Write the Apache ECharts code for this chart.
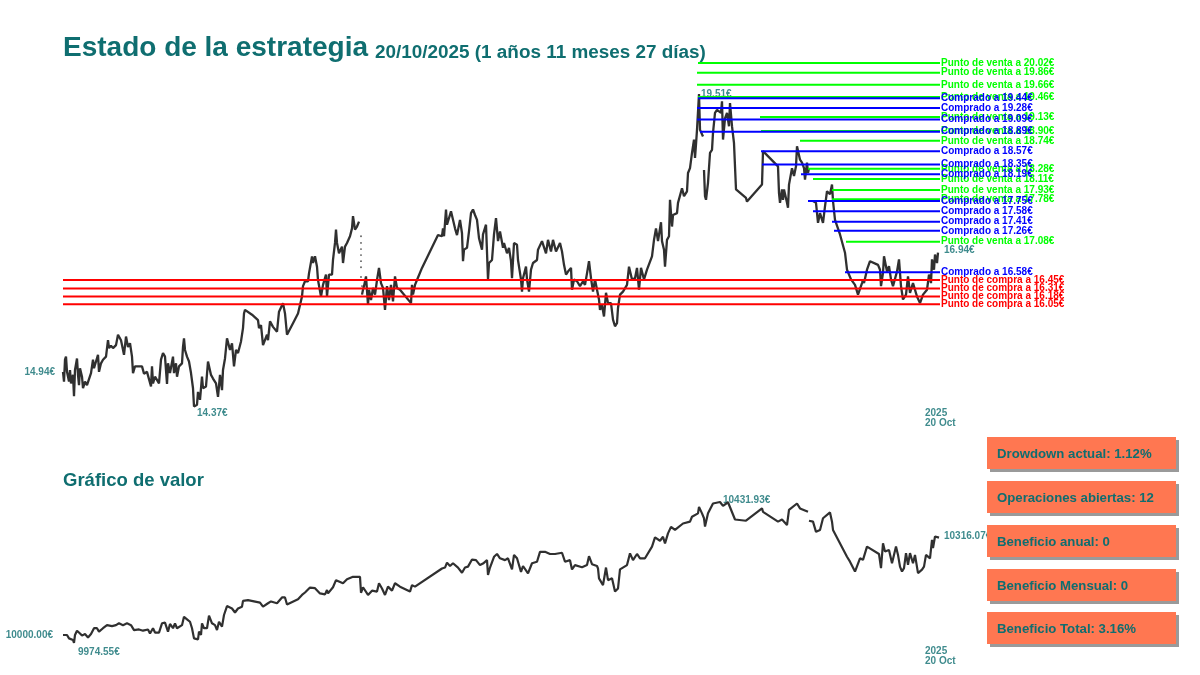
<!DOCTYPE html>
<html><head><meta charset="utf-8">
<script src="https://cdn.jsdelivr.net/npm/echarts@6/dist/echarts.min.js"></script>
<style>html,body{margin:0;background:#fff}#c{width:1200px;height:675px}</style></head>
<body><div id="c"></div>
<script>
// Price path: session number and price in euros
const priceSessions=[0,1,2,3,4,6,7,8,10,11,12,14,15,16,17,19,20,22,24,26,28,30,31,33,35,36,38,40,43,45,46,48,50,53,55,58,59,61,63,65,67,69,70,72,74,79,81,84,86,88,89,90,92,96,98,100,102,104,105,107,110,111,113,114,116,119,120,121,122,124,126,128,130,131,134,135,137,139,140,143,145,148,150,153,155,157,159,160,162,164,167,169,171,173,175,178,180,181,182,189,195,196,198,200,202,204,205,207,210,214,216,220,222,224,230,235,237,239,240,242,245,246,249,250,252,254,255,258,260,263,264,266,269,270,272,273,274,276,279,280,282,284,287,289,290,292,294,296,298,299,300,301,303,305,306,308,310,312,314,316,318,320,322,324,326,328,330,332,334,337,348,349,350,352,354,359,375,379,380,381,383,384,386,388,390,392,394,397,399,400,401,404,406,408,410,412,414,416,419,420,423,425,426,429,431,433,435,437,440,441,444,446,448,449,451,454,455,458,459,460,463,464,466,468,470,474,475,479,481,483,485,488,490,493,497,499,501,503,505,508,509,511,514,517,520,522,524,526,528,530,532,534,536,537,539,541,543,545,548,550,552,554,555,557,560,562,564,566,569,572,574,576,578,581,584,589,591,593,595,598,599,601,602,604,606,607,609,610,614,615,619,621,624,625,627,629,631,632,633,634,636,637,638,640,641,641,642,643,645,647,649,650,652,654,658,659,660,662,664,666,667,669,671,673,683,684,699,700,715,716,717,719,720,721,724,725,726,729,731,733,734,737,739,741,742,744,745,746,746,750,753,755,757,760,762,764,767,769,770,772,777,782,784,785,788,792,793,795,799,800,801,804,807,815,817,818,820,821,824,826,828,830,834,836,838,840,843,845,847,850,852,854,857,860,862,864,866,868,869,871,872,874,875];
const priceValues=[14.94,14.78,15.14,15.19,14.94,14.78,14.97,14.75,14.89,14.54,14.97,15.16,14.89,14.72,15.0,14.86,14.67,14.78,14.72,14.74,14.92,15.14,15.0,15.11,15.22,14.94,15.08,15.14,15.19,15.46,15.33,15.37,15.33,15.38,15.55,15.46,15.38,15.22,15.52,15.35,15.41,15.19,14.92,15.03,15.02,15.03,14.91,14.94,14.92,14.70,15.03,14.75,14.86,14.75,15.14,15.25,15.19,14.74,15.08,14.92,15.19,14.92,15.08,14.86,15.03,15.08,15.35,15.49,15.30,15.19,15.11,14.92,14.67,14.37,14.40,14.61,14.48,14.86,14.67,14.70,15.11,14.89,14.83,14.75,14.53,14.89,14.64,14.97,15.16,15.49,15.30,15.41,15.03,15.30,15.25,15.44,15.66,15.90,15.96,15.88,15.79,15.66,15.71,15.38,15.41,15.55,15.46,15.77,15.68,15.60,15.93,16.07,15.90,15.55,15.74,15.90,15.91,16.18,16.35,16.43,16.43,16.56,16.84,16.73,16.84,16.67,16.45,16.18,16.37,16.54,16.18,16.54,16.54,16.78,17.06,17.28,17.06,16.89,17.0,16.73,17.0,17.06,17.17,17.30,17.50,17.28,17.33,17.41,null,16.21,16.29,16.35,16.51,16.04,16.29,16.12,16.32,16.21,16.45,16.65,16.40,16.32,15.96,16.35,16.12,16.37,16.10,16.51,16.32,16.29,16.07,16.37,16.21,16.37,16.45,16.65,17.19,17.17,17.30,17.17,17.61,17.36,17.33,17.58,17.58,17.30,17.19,17.44,17.22,16.76,16.95,16.98,17.25,17.55,17.61,17.52,17.44,17.14,16.95,17.20,17.36,16.46,16.73,16.78,17.20,17.47,17.09,17.25,16.98,17.06,16.89,16.98,16.76,16.48,17.06,17.03,16.78,16.46,16.26,16.48,16.67,16.46,16.26,16.62,16.73,16.78,16.95,17.09,17.11,16.89,17.11,16.92,17.11,16.92,17.06,16.92,16.70,16.54,16.59,16.65,16.29,16.46,16.43,16.35,16.43,16.37,16.56,16.76,16.48,16.26,16.46,16.29,16.13,15.96,16.04,15.85,16.24,16.07,16.07,15.80,15.69,15.74,15.99,16.21,16.26,16.26,16.37,16.67,16.46,16.48,16.65,16.29,16.65,16.46,16.62,16.84,17.11,17.30,17.09,17.40,17.09,16.95,16.67,17.11,17.17,17.77,17.33,17.52,17.55,17.72,17.96,17.83,17.91,18.21,18.29,18.54,18.76,18.46,18.68,18.92,19.51,18.92,18.89,18.81,null,18.26,17.83,17.77,18.05,18.54,18.59,18.87,19.20,19.25,19.20,19.39,18.76,19.11,19.20,18.98,19.36,18.98,18.70,17.94,17.80,17.74,18.02,18.57,18.32,17.88,17.72,17.94,17.77,17.94,17.72,17.64,18.02,18.29,18.16,18.32,18.65,18.43,18.38,18.29,18.10,18.38,18.21,18.29,null,17.75,17.72,17.39,17.55,17.39,17.66,17.91,17.86,18.02,17.75,17.44,17.20,16.90,16.62,16.59,16.46,16.37,16.35,16.21,16.40,16.46,16.40,16.62,16.76,16.70,16.62,16.35,16.57,16.84,16.59,16.68,16.46,16.35,16.59,16.79,16.35,16.13,16.21,16.51,16.24,16.40,16.37,16.18,16.07,16.21,16.18,16.29,16.54,16.40,16.79,16.62,16.87,16.73,16.90,16.94];
// Dotted stretch of isolated sessions on the price path
const dotSessions=[298,298,298,298,298,298,298,299];
const dotValues=[17.17,17.06,16.96,16.86,16.76,16.66,16.5,16.35];
// Portfolio value path
const valueSessions=[0,4,6,8,10,11,12,14,17,19,22,25,28,31,34,36,40,44,49,53,56,60,64,68,71,76,80,85,87,90,92,96,99,102,105,107,110,112,114,119,121,124,127,129,131,135,136,138,139,141,144,146,149,152,154,156,159,160,161,164,169,172,175,179,180,185,197,200,205,208,214,219,222,224,235,239,242,247,252,257,262,264,265,270,273,275,280,284,290,297,298,300,305,309,314,316,319,322,325,329,332,337,347,349,352,379,382,384,387,390,395,399,402,405,409,413,417,420,424,425,427,431,434,437,442,445,449,451,454,458,460,465,469,474,477,482,487,492,499,502,507,509,512,519,524,526,529,534,535,536,540,543,545,549,552,555,557,564,567,570,574,577,582,589,592,597,600,602,605,608,612,620,627,629,635,636,639,641,642,645,650,657,660,665,672,683,699,700,715,719,724,726,734,737,745,746,746,750,753,757,760,767,769,770,784,787,792,797,800,804,816,818,820,822,826,829,833,835,837,839,841,843,845,847,850,852,855,859,861,863,867,869,870,872,874,876];
const valueValues=[10000,10000,9989,9994,9984,9974.55,10000,10014,10005,9998,10003,9992,10003,10022,10022,10011,10022,10032,10029,10032,10038,10032,10038,10032,10016,10018,10014,10018,10005,10022,10008,10008,10038,10040,10011,10036,10022,10038,10022,10032,10059,10051,10043,10022,9989,9986,10011,10000,10038,10022,10022,10063,10038,10032,10016,10043,10027,10027,10065,10094,10086,10073,10086,10092,10111,10113,10105,10092,10103,10109,10103,10122,10122,10099,10116,10130,10138,10154,10152,10135,10132,10146,10135,10155,10178,10173,10168,10181,10189,10189,10137,10155,10130,10144,10141,10168,10151,10130,10157,10144,10168,10157,10141,10162,10157,10216,10219,10235,10224,10233,10219,10202,10219,10222,10245,10243,10227,10232,10243,10195,10219,10254,10263,10249,10243,10249,10213,10260,10249,10205,10224,10200,10233,10238,10270,10270,10263,10263,10267,10238,10243,10213,10227,10220,10227,10256,10230,10224,10216,10184,10162,10219,10178,10184,10141,10151,10213,10227,10265,10243,10263,10249,10249,10287,10317,10306,10319,10297,10330,10351,10341,10362,10368,10384,10395,10416,10395,10379,10352,10395,10427,10431.93,10419,10431,10375,10371,10411,10400,10368,10375,10357,10406,10427,10411,10400,null,10371,10368,10335,10341,10379,10398,10368,10341,10254,10238,10206,10249,10244,10287,10263,10217,10298,10271,10276,10233,10287,10260,10222,10206,10217,10266,10228,10266,10233,10260,10201,10212,10222,10260,10249,10309,10282,10320,10314,10316.07];
// Strategy levels: price and the session where each begins
const sellPrices=[20.02,19.86,19.66,19.46,19.13,18.90,18.74,18.28,18.11,17.93,17.78,17.08];
const sellStarts=[635,634,634,635,697,698,737,745,750,769,769,783];
const boughtPrices=[19.44,19.28,19.09,18.89,18.57,18.35,18.19,17.75,17.58,17.41,17.26,16.58];
const boughtStarts=[635,634,634,637,698,699,738,745,750,769,771,782];
const buyPrices=[16.45,16.31,16.18,16.05];
const lastSession=877;
// Cards and texts
const cardTexts=['Drowdown actual: 1.12%','Operaciones abiertas: 12','Beneficio anual: 0','Beneficio Mensual: 0','Beneficio Total: 3.16%'];
const teal='#0f6e70', dark='#303030';
const FONT='"Liberation Sans",Arial,sans-serif';

const zip=(a,b)=>a.map((v,i)=>[v,b[i]]);
function levelSeries(prices,starts,color,prefix){
  return prices.map((p,i)=>({type:'line',xAxisIndex:0,yAxisIndex:0,silent:true,symbol:'none',animation:false,
    data:[[starts?starts[i]:0,p],[lastSession,p]],lineStyle:{color,width:2},
    endLabel:{show:true,distance:1,formatter:prefix+' a '+p.toFixed(2)+'€',color,fontSize:10,fontWeight:'bold',fontFamily:FONT}}));
}
function note(ax,x,y,text,dx,dy,align){
  return {type:'scatter',xAxisIndex:ax,yAxisIndex:ax,symbolSize:0,silent:true,animation:false,z:1,data:[[x,y]],
    label:{show:true,position:'inside',formatter:text,offset:[dx,dy],align:align||'left',verticalAlign:'middle',
      color:teal,fontSize:10,lineHeight:10,fontWeight:'bold',fontFamily:FONT}};
}
const chart=echarts.init(document.getElementById('c'),null,{renderer:'canvas'});
const cardTop=[437,481,525,569,612], graphic=[];
const txt=(x,y,text,size)=>({type:'text',left:x,top:y,style:{text,fill:teal,font:'bold '+size+'px '+FONT}});
graphic.push(txt(63,34.5,'Estado de la estrategia',28));
graphic.push(txt(375,43,'20/10/2025 (1 años 11 meses 27 días)',18.9));
graphic.push(txt(63,471,'Gráfico de valor',18.5));
cardTexts.forEach((t,i)=>{
  graphic.push({type:'rect',shape:{x:990,y:cardTop[i]+3,width:189,height:32},style:{fill:'#9a9a9a'},z:10});
  graphic.push({type:'rect',shape:{x:987,y:cardTop[i],width:189,height:32},style:{fill:'#ff7751'},z:11});
  graphic.push({type:'text',x:997,y:cardTop[i]+11,style:{text:t,fill:teal,font:'bold 13.2px '+FONT},z:12});
});
chart.setOption({
  animation:false,backgroundColor:'#fff',
  graphic,
  grid:[{left:63,width:877,top:33.8,height:395.2},{left:63,width:877,top:496.4,height:154}],
  xAxis:[{type:'value',min:0,max:lastSession,show:false,gridIndex:0},{type:'value',min:0,max:lastSession,show:false,gridIndex:1}],
  yAxis:[{type:'value',min:14,max:20.5,show:false,gridIndex:0},{type:'value',min:9950,max:10450,show:false,gridIndex:1}],
  series:[
    {type:'line',name:'Precio',xAxisIndex:0,yAxisIndex:0,data:zip(priceSessions,priceValues),symbol:'none',lineStyle:{color:dark,width:2.3},connectNulls:false,silent:true},
    {type:'scatter',name:'Precio puntos',xAxisIndex:0,yAxisIndex:0,data:zip(dotSessions,dotValues),symbolSize:1.8,itemStyle:{color:dark},silent:true},
    {type:'line',name:'Valor',xAxisIndex:1,yAxisIndex:1,data:zip(valueSessions,valueValues),symbol:'none',lineStyle:{color:dark,width:2.2},connectNulls:false,silent:true},
    ...levelSeries(sellPrices,sellStarts,'#00ff00','Punto de venta'),
    ...levelSeries(boughtPrices,boughtStarts,'#0000ff','Comprado'),
    ...levelSeries(buyPrices,null,'#ff0000','Punto de compra'),
    note(0,0,14.94,'14.94€',-8,0,'right'),
    note(0,134,14.37,'14.37€',0,7,'left'),
    note(0,636,19.51,'19.51€',2,0,'left'),
    note(0,875,16.94,'16.94€',6,0,'left'),
    note(0,862,14.0,'2025\n20 Oct',0,-11,'left'),
    note(1,0,10000,'10000.00€',-10,0,'right'),
    note(1,11,9974.55,'9974.55€',4,9,'left'),
    note(1,660,10431.93,'10431.93€',0,-2,'left'),
    note(1,876,10316.07,'10316.07€',5,-1,'left'),
    note(1,862,9950,'2025\n20 Oct',0,5.5,'left')
  ]
});
</script></body></html>
